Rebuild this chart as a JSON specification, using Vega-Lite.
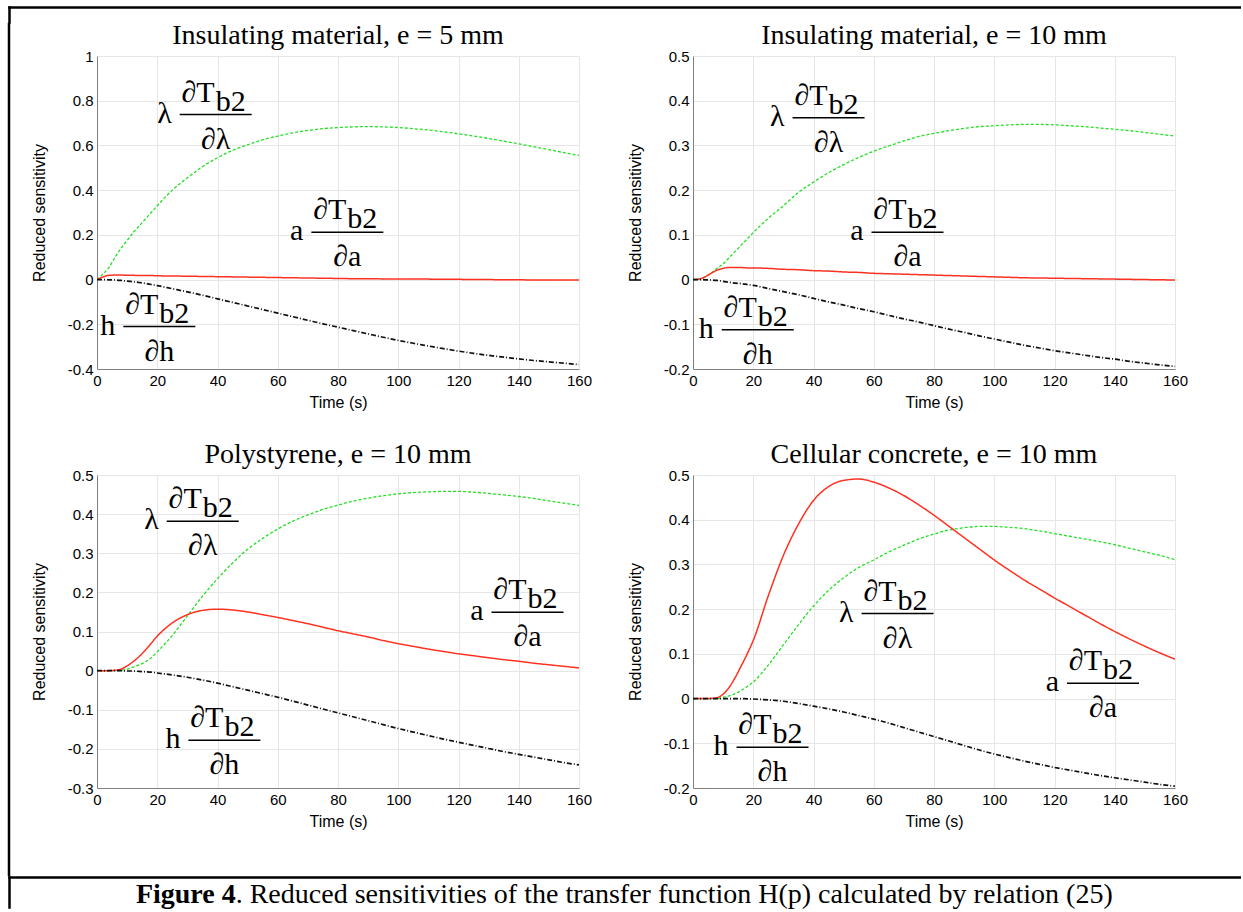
{
  "$schema": "https://vega.github.io/schema/vega-lite/v6.json",
  "background": "white",
  "padding": {"left": 7, "top": 7, "right": 0, "bottom": 0},
  "spacing": 0,
  "bounds": "full",
  "datasets": {
    "curves": [
      {"panel":"P1","time":0,"lambda":0,"a":0,"h":0},
      {"panel":"P1","time":2,"lambda":0.025,"a":0.012,"h":-0.0005},
      {"panel":"P1","time":4,"lambda":0.055,"a":0.019,"h":-0.001},
      {"panel":"P1","time":6,"lambda":0.1,"a":0.02,"h":-0.002},
      {"panel":"P1","time":8,"lambda":0.14,"a":0.02,"h":-0.004},
      {"panel":"P1","time":10,"lambda":0.175,"a":0.019,"h":-0.007},
      {"panel":"P1","time":12,"lambda":0.21,"a":0.019,"h":-0.01},
      {"panel":"P1","time":14,"lambda":0.24,"a":0.018,"h":-0.013},
      {"panel":"P1","time":16,"lambda":0.27,"a":0.018,"h":-0.017},
      {"panel":"P1","time":18,"lambda":0.3,"a":0.018,"h":-0.022},
      {"panel":"P1","time":20,"lambda":0.33,"a":0.017,"h":-0.027},
      {"panel":"P1","time":25,"lambda":0.4,"a":0.016,"h":-0.041},
      {"panel":"P1","time":30,"lambda":0.455,"a":0.015,"h":-0.055},
      {"panel":"P1","time":35,"lambda":0.505,"a":0.014,"h":-0.07},
      {"panel":"P1","time":40,"lambda":0.545,"a":0.013,"h":-0.086},
      {"panel":"P1","time":45,"lambda":0.578,"a":0.012,"h":-0.102},
      {"panel":"P1","time":50,"lambda":0.603,"a":0.011,"h":-0.118},
      {"panel":"P1","time":55,"lambda":0.625,"a":0.01,"h":-0.134},
      {"panel":"P1","time":60,"lambda":0.642,"a":0.009,"h":-0.15},
      {"panel":"P1","time":65,"lambda":0.656,"a":0.008,"h":-0.166},
      {"panel":"P1","time":70,"lambda":0.667,"a":0.007,"h":-0.182},
      {"panel":"P1","time":75,"lambda":0.675,"a":0.006,"h":-0.198},
      {"panel":"P1","time":80,"lambda":0.68,"a":0.005,"h":-0.213},
      {"panel":"P1","time":85,"lambda":0.683,"a":0.004,"h":-0.228},
      {"panel":"P1","time":90,"lambda":0.684,"a":0.004,"h":-0.243},
      {"panel":"P1","time":95,"lambda":0.683,"a":0.003,"h":-0.258},
      {"panel":"P1","time":100,"lambda":0.68,"a":0.003,"h":-0.272},
      {"panel":"P1","time":105,"lambda":0.675,"a":0.002,"h":-0.285},
      {"panel":"P1","time":110,"lambda":0.669,"a":0.002,"h":-0.297},
      {"panel":"P1","time":115,"lambda":0.661,"a":0.001,"h":-0.309},
      {"panel":"P1","time":120,"lambda":0.652,"a":0.001,"h":-0.32},
      {"panel":"P1","time":125,"lambda":0.642,"a":0,"h":-0.33},
      {"panel":"P1","time":130,"lambda":0.631,"a":0,"h":-0.339},
      {"panel":"P1","time":135,"lambda":0.619,"a":-0.001,"h":-0.347},
      {"panel":"P1","time":140,"lambda":0.607,"a":-0.001,"h":-0.355},
      {"panel":"P1","time":145,"lambda":0.594,"a":-0.002,"h":-0.362},
      {"panel":"P1","time":150,"lambda":0.581,"a":-0.002,"h":-0.368},
      {"panel":"P1","time":155,"lambda":0.568,"a":-0.002,"h":-0.374},
      {"panel":"P1","time":160,"lambda":0.555,"a":-0.002,"h":-0.38},

      {"panel":"P2","time":0,"lambda":0,"a":0,"h":0},
      {"panel":"P2","time":2,"lambda":0.001,"a":0.001,"h":0},
      {"panel":"P2","time":4,"lambda":0.006,"a":0.006,"h":-0.0005},
      {"panel":"P2","time":6,"lambda":0.015,"a":0.014,"h":-0.001},
      {"panel":"P2","time":8,"lambda":0.025,"a":0.021,"h":-0.002},
      {"panel":"P2","time":10,"lambda":0.035,"a":0.025,"h":-0.004},
      {"panel":"P2","time":12,"lambda":0.049,"a":0.027,"h":-0.006},
      {"panel":"P2","time":14,"lambda":0.063,"a":0.027,"h":-0.008},
      {"panel":"P2","time":16,"lambda":0.077,"a":0.027,"h":-0.009},
      {"panel":"P2","time":18,"lambda":0.091,"a":0.026,"h":-0.011},
      {"panel":"P2","time":20,"lambda":0.105,"a":0.026,"h":-0.013},
      {"panel":"P2","time":25,"lambda":0.137,"a":0.025,"h":-0.02},
      {"panel":"P2","time":30,"lambda":0.165,"a":0.023,"h":-0.027},
      {"panel":"P2","time":35,"lambda":0.195,"a":0.022,"h":-0.034},
      {"panel":"P2","time":40,"lambda":0.218,"a":0.02,"h":-0.042},
      {"panel":"P2","time":45,"lambda":0.239,"a":0.019,"h":-0.05},
      {"panel":"P2","time":50,"lambda":0.257,"a":0.017,"h":-0.057},
      {"panel":"P2","time":55,"lambda":0.273,"a":0.016,"h":-0.065},
      {"panel":"P2","time":60,"lambda":0.287,"a":0.014,"h":-0.072},
      {"panel":"P2","time":65,"lambda":0.299,"a":0.013,"h":-0.08},
      {"panel":"P2","time":70,"lambda":0.31,"a":0.012,"h":-0.088},
      {"panel":"P2","time":75,"lambda":0.32,"a":0.011,"h":-0.095},
      {"panel":"P2","time":80,"lambda":0.327,"a":0.01,"h":-0.103},
      {"panel":"P2","time":85,"lambda":0.333,"a":0.009,"h":-0.111},
      {"panel":"P2","time":90,"lambda":0.338,"a":0.008,"h":-0.118},
      {"panel":"P2","time":95,"lambda":0.342,"a":0.007,"h":-0.126},
      {"panel":"P2","time":100,"lambda":0.344,"a":0.006,"h":-0.133},
      {"panel":"P2","time":105,"lambda":0.346,"a":0.005,"h":-0.14},
      {"panel":"P2","time":110,"lambda":0.347,"a":0.004,"h":-0.147},
      {"panel":"P2","time":115,"lambda":0.347,"a":0.0035,"h":-0.153},
      {"panel":"P2","time":120,"lambda":0.346,"a":0.003,"h":-0.159},
      {"panel":"P2","time":125,"lambda":0.344,"a":0.0025,"h":-0.164},
      {"panel":"P2","time":130,"lambda":0.342,"a":0.002,"h":-0.169},
      {"panel":"P2","time":135,"lambda":0.339,"a":0.0015,"h":-0.174},
      {"panel":"P2","time":140,"lambda":0.336,"a":0.001,"h":-0.178},
      {"panel":"P2","time":145,"lambda":0.333,"a":0.0005,"h":-0.183},
      {"panel":"P2","time":150,"lambda":0.329,"a":0,"h":-0.187},
      {"panel":"P2","time":155,"lambda":0.325,"a":-0.0005,"h":-0.191},
      {"panel":"P2","time":160,"lambda":0.321,"a":-0.001,"h":-0.194},

      {"panel":"P3","time":0,"lambda":0,"a":0,"h":0},
      {"panel":"P3","time":2,"lambda":0,"a":0,"h":0},
      {"panel":"P3","time":4,"lambda":0,"a":0,"h":0},
      {"panel":"P3","time":6,"lambda":0,"a":0.001,"h":0},
      {"panel":"P3","time":8,"lambda":0.001,"a":0.004,"h":0},
      {"panel":"P3","time":10,"lambda":0.004,"a":0.012,"h":-0.001},
      {"panel":"P3","time":12,"lambda":0.009,"a":0.023,"h":-0.001},
      {"panel":"P3","time":14,"lambda":0.015,"a":0.036,"h":-0.002},
      {"panel":"P3","time":16,"lambda":0.022,"a":0.052,"h":-0.003},
      {"panel":"P3","time":18,"lambda":0.033,"a":0.07,"h":-0.004},
      {"panel":"P3","time":20,"lambda":0.048,"a":0.088,"h":-0.006},
      {"panel":"P3","time":25,"lambda":0.09,"a":0.122,"h":-0.011},
      {"panel":"P3","time":30,"lambda":0.14,"a":0.143,"h":-0.017},
      {"panel":"P3","time":35,"lambda":0.19,"a":0.154,"h":-0.024},
      {"panel":"P3","time":40,"lambda":0.235,"a":0.157,"h":-0.032},
      {"panel":"P3","time":45,"lambda":0.275,"a":0.155,"h":-0.041},
      {"panel":"P3","time":50,"lambda":0.31,"a":0.15,"h":-0.05},
      {"panel":"P3","time":55,"lambda":0.338,"a":0.143,"h":-0.059},
      {"panel":"P3","time":60,"lambda":0.362,"a":0.136,"h":-0.068},
      {"panel":"P3","time":65,"lambda":0.382,"a":0.128,"h":-0.078},
      {"panel":"P3","time":70,"lambda":0.398,"a":0.12,"h":-0.088},
      {"panel":"P3","time":75,"lambda":0.412,"a":0.111,"h":-0.098},
      {"panel":"P3","time":80,"lambda":0.423,"a":0.102,"h":-0.108},
      {"panel":"P3","time":85,"lambda":0.433,"a":0.094,"h":-0.118},
      {"panel":"P3","time":90,"lambda":0.441,"a":0.086,"h":-0.128},
      {"panel":"P3","time":95,"lambda":0.447,"a":0.077,"h":-0.138},
      {"panel":"P3","time":100,"lambda":0.452,"a":0.069,"h":-0.148},
      {"panel":"P3","time":105,"lambda":0.455,"a":0.062,"h":-0.157},
      {"panel":"P3","time":110,"lambda":0.457,"a":0.055,"h":-0.166},
      {"panel":"P3","time":115,"lambda":0.458,"a":0.049,"h":-0.175},
      {"panel":"P3","time":120,"lambda":0.458,"a":0.043,"h":-0.183},
      {"panel":"P3","time":125,"lambda":0.456,"a":0.038,"h":-0.191},
      {"panel":"P3","time":130,"lambda":0.453,"a":0.033,"h":-0.199},
      {"panel":"P3","time":135,"lambda":0.449,"a":0.028,"h":-0.207},
      {"panel":"P3","time":140,"lambda":0.445,"a":0.024,"h":-0.214},
      {"panel":"P3","time":145,"lambda":0.44,"a":0.019,"h":-0.221},
      {"panel":"P3","time":150,"lambda":0.434,"a":0.015,"h":-0.228},
      {"panel":"P3","time":155,"lambda":0.428,"a":0.011,"h":-0.235},
      {"panel":"P3","time":160,"lambda":0.422,"a":0.007,"h":-0.241},

      {"panel":"P4","time":0,"lambda":0,"a":0,"h":0},
      {"panel":"P4","time":2,"lambda":0,"a":0,"h":0},
      {"panel":"P4","time":4,"lambda":0,"a":0,"h":0},
      {"panel":"P4","time":6,"lambda":0,"a":0.0005,"h":0},
      {"panel":"P4","time":8,"lambda":0,"a":0.002,"h":0},
      {"panel":"P4","time":10,"lambda":0.003,"a":0.01,"h":0},
      {"panel":"P4","time":12,"lambda":0.006,"a":0.025,"h":0},
      {"panel":"P4","time":14,"lambda":0.011,"a":0.047,"h":0},
      {"panel":"P4","time":16,"lambda":0.018,"a":0.073,"h":0},
      {"panel":"P4","time":18,"lambda":0.027,"a":0.1,"h":-0.0005},
      {"panel":"P4","time":20,"lambda":0.037,"a":0.13,"h":-0.001},
      {"panel":"P4","time":25,"lambda":0.075,"a":0.23,"h":-0.003},
      {"panel":"P4","time":30,"lambda":0.12,"a":0.32,"h":-0.006},
      {"panel":"P4","time":35,"lambda":0.165,"a":0.39,"h":-0.011},
      {"panel":"P4","time":40,"lambda":0.207,"a":0.443,"h":-0.017},
      {"panel":"P4","time":45,"lambda":0.242,"a":0.474,"h":-0.023},
      {"panel":"P4","time":50,"lambda":0.27,"a":0.488,"h":-0.03},
      {"panel":"P4","time":55,"lambda":0.293,"a":0.491,"h":-0.038},
      {"panel":"P4","time":60,"lambda":0.31,"a":0.484,"h":-0.046},
      {"panel":"P4","time":65,"lambda":0.328,"a":0.471,"h":-0.055},
      {"panel":"P4","time":70,"lambda":0.343,"a":0.454,"h":-0.065},
      {"panel":"P4","time":75,"lambda":0.357,"a":0.433,"h":-0.075},
      {"panel":"P4","time":80,"lambda":0.368,"a":0.41,"h":-0.085},
      {"panel":"P4","time":85,"lambda":0.377,"a":0.385,"h":-0.095},
      {"panel":"P4","time":90,"lambda":0.382,"a":0.36,"h":-0.105},
      {"panel":"P4","time":95,"lambda":0.385,"a":0.335,"h":-0.115},
      {"panel":"P4","time":100,"lambda":0.385,"a":0.31,"h":-0.124},
      {"panel":"P4","time":105,"lambda":0.383,"a":0.287,"h":-0.132},
      {"panel":"P4","time":110,"lambda":0.38,"a":0.265,"h":-0.14},
      {"panel":"P4","time":115,"lambda":0.375,"a":0.245,"h":-0.147},
      {"panel":"P4","time":120,"lambda":0.369,"a":0.225,"h":-0.154},
      {"panel":"P4","time":125,"lambda":0.363,"a":0.206,"h":-0.16},
      {"panel":"P4","time":130,"lambda":0.357,"a":0.187,"h":-0.166},
      {"panel":"P4","time":135,"lambda":0.351,"a":0.168,"h":-0.172},
      {"panel":"P4","time":140,"lambda":0.344,"a":0.15,"h":-0.177},
      {"panel":"P4","time":145,"lambda":0.336,"a":0.133,"h":-0.182},
      {"panel":"P4","time":150,"lambda":0.328,"a":0.117,"h":-0.187},
      {"panel":"P4","time":155,"lambda":0.32,"a":0.102,"h":-0.192},
      {"panel":"P4","time":160,"lambda":0.311,"a":0.088,"h":-0.196}
    ],
    "labels": [
      {"panel":"P1","series":"lambda","time":39.4,"value":0.738,"prefix":"λ","numerator":"∂T","subscript":"b2","denominator":"∂λ"},
      {"panel":"P1","series":"a","time":83.1,"value":0.212,"prefix":"a","numerator":"∂T","subscript":"b2","denominator":"∂a"},
      {"panel":"P1","series":"h","time":20.7,"value":-0.21,"prefix":"h","numerator":"∂T","subscript":"b2","denominator":"∂h"},
      {"panel":"P2","series":"lambda","time":45,"value":0.362,"prefix":"λ","numerator":"∂T","subscript":"b2","denominator":"∂λ"},
      {"panel":"P2","series":"a","time":71.2,"value":0.106,"prefix":"a","numerator":"∂T","subscript":"b2","denominator":"∂a"},
      {"panel":"P2","series":"h","time":21.5,"value":-0.112,"prefix":"h","numerator":"∂T","subscript":"b2","denominator":"∂h"},
      {"panel":"P3","series":"lambda","time":35.1,"value":0.382,"prefix":"λ","numerator":"∂T","subscript":"b2","denominator":"∂λ"},
      {"panel":"P3","series":"a","time":142.9,"value":0.149,"prefix":"a","numerator":"∂T","subscript":"b2","denominator":"∂a"},
      {"panel":"P3","series":"h","time":42.3,"value":-0.178,"prefix":"h","numerator":"∂T","subscript":"b2","denominator":"∂h"},
      {"panel":"P4","series":"lambda","time":67.9,"value":0.19,"prefix":"λ","numerator":"∂T","subscript":"b2","denominator":"∂λ"},
      {"panel":"P4","series":"a","time":136.1,"value":0.034,"prefix":"a","numerator":"∂T","subscript":"b2","denominator":"∂a"},
      {"panel":"P4","series":"h","time":26.4,"value":-0.109,"prefix":"h","numerator":"∂T","subscript":"b2","denominator":"∂h"}
    ]
  },
  "vconcat": [
    {
      "width": 1232, "height": 15,
      "data": {"values": [{}]},
      "mark": {"type": "text", "text": ""},
      "encoding": {
        "x": {"datum": 0.5, "type": "quantitative", "scale": {"domain": [0, 1]}, "axis": {"orient": "top", "title": null, "labels": false, "ticks": false, "grid": false, "domainColor": "black", "domainWidth": 2.5, "domainCap": "square"}},
        "y": {"datum": 0.5, "type": "quantitative", "scale": {"domain": [0, 1]}, "axis": {"orient": "left", "title": null, "labels": false, "ticks": false, "grid": false, "domainColor": "black", "domainWidth": 2.5, "domainCap": "square"}}
      }
    },
    {
      "hconcat": [
        {
          "width": 1, "height": 819,
          "data": {"values": [{}]},
          "mark": {"type": "rule", "color": "black", "strokeWidth": 2.5, "strokeCap": "square", "clip": false},
          "encoding": {
            "x": {"datum": 0, "type": "quantitative", "scale": {"domain": [0, 1], "nice": false, "zero": false}, "axis": null},
            "y": {"datum": 0, "type": "quantitative", "scale": {"domain": [0, 1], "nice": false, "zero": false}, "axis": null},
            "y2": {"datum": 1.039}
          }
        },
        {
          "columns": 2,
          "spacing": {"row": 106, "column": 114},
          "bounds": "flush",
          "concat": [
            {
              "width": 482, "height": 313,
              "title": "Insulating material, e = 5 mm",
              "layer": [
                {
                  "data": {"name": "curves"},
                  "transform": [{"filter": "datum.panel == 'P1'"}, {"fold": ["lambda", "a", "h"], "as": ["series", "value"]}],
                  "mark": {"type": "line", "interpolate": "monotone", "clip": true},
                  "encoding": {
                    "x": {"field": "time", "type": "quantitative", "scale": {"domain": [0, 160], "nice": false}, "axis": {"title": "Time (s)", "values": [0,20,40,60,80,100,120,140,160], "tickCount": 20}},
                    "y": {"field": "value", "type": "quantitative", "scale": {"domain": [-0.4, 1], "nice": false}, "axis": {"title": "Reduced sensitivity", "values": [-0.4,-0.2,0,0.2,0.4,0.6,0.8,1], "tickCount": 20, "labelExpr": "'' + datum.value"}},
                    "color": {"field": "series", "type": "nominal", "scale": {"domain": ["lambda","a","h"], "range": ["#22e022","#ff3020","#111111"]}, "legend": null},
                    "strokeDash": {"field": "series", "type": "nominal", "scale": {"domain": ["lambda","a","h"], "range": [[3,2],[1,0],[5,2,1,2]]}, "legend": null},
                    "strokeWidth": {"field": "series", "type": "nominal", "scale": {"domain": ["lambda","a","h"], "range": [1.3,1.7,1.2]}, "legend": null}
                  }
                },
                {
                  "data": {"name": "labels"},
                  "transform": [{"filter": "datum.panel == 'P1'"}],
                  "encoding": {"x": {"field": "time", "type": "quantitative"}, "y": {"field": "value", "type": "quantitative"}},
                  "layer": [
                    {"mark": {"type": "rule", "xOffset": -36, "x2Offset": 36, "strokeWidth": 1.5, "color": "black"}, "encoding": {"x2": {"field": "time"}}},
                    {"mark": {"type": "text", "font": "Liberation Serif", "fontSize": 30, "align": "right", "baseline": "alphabetic", "dx": -44, "dy": 8, "color": "black"}, "encoding": {"text": {"field": "prefix"}}},
                    {"mark": {"type": "text", "font": "Liberation Serif", "fontSize": 30, "align": "right", "baseline": "alphabetic", "dx": -1, "dy": -13, "color": "black"}, "encoding": {"text": {"field": "numerator"}}},
                    {"mark": {"type": "text", "font": "Liberation Serif", "fontSize": 30, "align": "left", "baseline": "alphabetic", "dx": 0, "dy": -4, "color": "black"}, "encoding": {"text": {"field": "subscript"}}},
                    {"mark": {"type": "text", "font": "Liberation Serif", "fontSize": 30, "align": "center", "baseline": "alphabetic", "dx": 0, "dy": 34, "color": "black"}, "encoding": {"text": {"field": "denominator"}}}
                  ]
                }
              ]
            },
            {
              "width": 482, "height": 313,
              "title": "Insulating material, e = 10 mm",
              "layer": [
                {
                  "data": {"name": "curves"},
                  "transform": [{"filter": "datum.panel == 'P2'"}, {"fold": ["lambda", "a", "h"], "as": ["series", "value"]}],
                  "mark": {"type": "line", "interpolate": "monotone", "clip": true},
                  "encoding": {
                    "x": {"field": "time", "type": "quantitative", "scale": {"domain": [0, 160], "nice": false}, "axis": {"title": "Time (s)", "values": [0,20,40,60,80,100,120,140,160], "tickCount": 20}},
                    "y": {"field": "value", "type": "quantitative", "scale": {"domain": [-0.2, 0.5], "nice": false}, "axis": {"title": "Reduced sensitivity", "values": [-0.2,-0.1,0,0.1,0.2,0.3,0.4,0.5], "tickCount": 20, "labelExpr": "'' + datum.value"}},
                    "color": {"field": "series", "type": "nominal", "scale": {"domain": ["lambda","a","h"], "range": ["#22e022","#ff3020","#111111"]}, "legend": null},
                    "strokeDash": {"field": "series", "type": "nominal", "scale": {"domain": ["lambda","a","h"], "range": [[3,2],[1,0],[5,2,1,2]]}, "legend": null},
                    "strokeWidth": {"field": "series", "type": "nominal", "scale": {"domain": ["lambda","a","h"], "range": [1.3,1.7,1.2]}, "legend": null}
                  }
                },
                {
                  "data": {"name": "labels"},
                  "transform": [{"filter": "datum.panel == 'P2'"}],
                  "encoding": {"x": {"field": "time", "type": "quantitative"}, "y": {"field": "value", "type": "quantitative"}},
                  "layer": [
                    {"mark": {"type": "rule", "xOffset": -36, "x2Offset": 36, "strokeWidth": 1.5, "color": "black"}, "encoding": {"x2": {"field": "time"}}},
                    {"mark": {"type": "text", "font": "Liberation Serif", "fontSize": 30, "align": "right", "baseline": "alphabetic", "dx": -44, "dy": 8, "color": "black"}, "encoding": {"text": {"field": "prefix"}}},
                    {"mark": {"type": "text", "font": "Liberation Serif", "fontSize": 30, "align": "right", "baseline": "alphabetic", "dx": -1, "dy": -13, "color": "black"}, "encoding": {"text": {"field": "numerator"}}},
                    {"mark": {"type": "text", "font": "Liberation Serif", "fontSize": 30, "align": "left", "baseline": "alphabetic", "dx": 0, "dy": -4, "color": "black"}, "encoding": {"text": {"field": "subscript"}}},
                    {"mark": {"type": "text", "font": "Liberation Serif", "fontSize": 30, "align": "center", "baseline": "alphabetic", "dx": 0, "dy": 34, "color": "black"}, "encoding": {"text": {"field": "denominator"}}}
                  ]
                }
              ]
            },
            {
              "width": 482, "height": 313,
              "title": "Polystyrene, e = 10 mm",
              "layer": [
                {
                  "data": {"name": "curves"},
                  "transform": [{"filter": "datum.panel == 'P3'"}, {"fold": ["lambda", "a", "h"], "as": ["series", "value"]}],
                  "mark": {"type": "line", "interpolate": "monotone", "clip": true},
                  "encoding": {
                    "x": {"field": "time", "type": "quantitative", "scale": {"domain": [0, 160], "nice": false}, "axis": {"title": "Time (s)", "values": [0,20,40,60,80,100,120,140,160], "tickCount": 20}},
                    "y": {"field": "value", "type": "quantitative", "scale": {"domain": [-0.3, 0.5], "nice": false}, "axis": {"title": "Reduced sensitivity", "values": [-0.3,-0.2,-0.1,0,0.1,0.2,0.3,0.4,0.5], "tickCount": 20, "labelExpr": "'' + datum.value"}},
                    "color": {"field": "series", "type": "nominal", "scale": {"domain": ["lambda","a","h"], "range": ["#22e022","#ff3020","#111111"]}, "legend": null},
                    "strokeDash": {"field": "series", "type": "nominal", "scale": {"domain": ["lambda","a","h"], "range": [[3,2],[1,0],[5,2,1,2]]}, "legend": null},
                    "strokeWidth": {"field": "series", "type": "nominal", "scale": {"domain": ["lambda","a","h"], "range": [1.3,1.7,1.2]}, "legend": null}
                  }
                },
                {
                  "data": {"name": "labels"},
                  "transform": [{"filter": "datum.panel == 'P3'"}],
                  "encoding": {"x": {"field": "time", "type": "quantitative"}, "y": {"field": "value", "type": "quantitative"}},
                  "layer": [
                    {"mark": {"type": "rule", "xOffset": -36, "x2Offset": 36, "strokeWidth": 1.5, "color": "black"}, "encoding": {"x2": {"field": "time"}}},
                    {"mark": {"type": "text", "font": "Liberation Serif", "fontSize": 30, "align": "right", "baseline": "alphabetic", "dx": -44, "dy": 8, "color": "black"}, "encoding": {"text": {"field": "prefix"}}},
                    {"mark": {"type": "text", "font": "Liberation Serif", "fontSize": 30, "align": "right", "baseline": "alphabetic", "dx": -1, "dy": -13, "color": "black"}, "encoding": {"text": {"field": "numerator"}}},
                    {"mark": {"type": "text", "font": "Liberation Serif", "fontSize": 30, "align": "left", "baseline": "alphabetic", "dx": 0, "dy": -4, "color": "black"}, "encoding": {"text": {"field": "subscript"}}},
                    {"mark": {"type": "text", "font": "Liberation Serif", "fontSize": 30, "align": "center", "baseline": "alphabetic", "dx": 0, "dy": 34, "color": "black"}, "encoding": {"text": {"field": "denominator"}}}
                  ]
                }
              ]
            },
            {
              "width": 482, "height": 313,
              "title": "Cellular concrete, e = 10 mm",
              "layer": [
                {
                  "data": {"name": "curves"},
                  "transform": [{"filter": "datum.panel == 'P4'"}, {"fold": ["lambda", "a", "h"], "as": ["series", "value"]}],
                  "mark": {"type": "line", "interpolate": "monotone", "clip": true},
                  "encoding": {
                    "x": {"field": "time", "type": "quantitative", "scale": {"domain": [0, 160], "nice": false}, "axis": {"title": "Time (s)", "values": [0,20,40,60,80,100,120,140,160], "tickCount": 20}},
                    "y": {"field": "value", "type": "quantitative", "scale": {"domain": [-0.2, 0.5], "nice": false}, "axis": {"title": "Reduced sensitivity", "values": [-0.2,-0.1,0,0.1,0.2,0.3,0.4,0.5], "tickCount": 20, "labelExpr": "'' + datum.value"}},
                    "color": {"field": "series", "type": "nominal", "scale": {"domain": ["lambda","a","h"], "range": ["#22e022","#ff3020","#111111"]}, "legend": null},
                    "strokeDash": {"field": "series", "type": "nominal", "scale": {"domain": ["lambda","a","h"], "range": [[3,2],[1,0],[5,2,1,2]]}, "legend": null},
                    "strokeWidth": {"field": "series", "type": "nominal", "scale": {"domain": ["lambda","a","h"], "range": [1.3,1.7,1.2]}, "legend": null}
                  }
                },
                {
                  "data": {"name": "labels"},
                  "transform": [{"filter": "datum.panel == 'P4'"}],
                  "encoding": {"x": {"field": "time", "type": "quantitative"}, "y": {"field": "value", "type": "quantitative"}},
                  "layer": [
                    {"mark": {"type": "rule", "xOffset": -36, "x2Offset": 36, "strokeWidth": 1.5, "color": "black"}, "encoding": {"x2": {"field": "time"}}},
                    {"mark": {"type": "text", "font": "Liberation Serif", "fontSize": 30, "align": "right", "baseline": "alphabetic", "dx": -44, "dy": 8, "color": "black"}, "encoding": {"text": {"field": "prefix"}}},
                    {"mark": {"type": "text", "font": "Liberation Serif", "fontSize": 30, "align": "right", "baseline": "alphabetic", "dx": -1, "dy": -13, "color": "black"}, "encoding": {"text": {"field": "numerator"}}},
                    {"mark": {"type": "text", "font": "Liberation Serif", "fontSize": 30, "align": "left", "baseline": "alphabetic", "dx": 0, "dy": -4, "color": "black"}, "encoding": {"text": {"field": "subscript"}}},
                    {"mark": {"type": "text", "font": "Liberation Serif", "fontSize": 30, "align": "center", "baseline": "alphabetic", "dx": 0, "dy": 34, "color": "black"}, "encoding": {"text": {"field": "denominator"}}}
                  ]
                }
              ]
            }
          ]
        }
      ],
      "spacing": 20,
      "bounds": "full"
    },
    {
      "width": 1232, "height": 30,
      "data": {"values": [{}]},
      "layer": [
        {
          "mark": {"type": "text", "text": "Figure 4", "font": "Liberation Serif", "fontSize": 28, "fontWeight": "bold", "align": "right", "baseline": "alphabetic", "dy": 11, "color": "black"},
          "encoding": {
            "x": {"datum": 0.184, "type": "quantitative", "scale": {"domain": [0, 1]}, "axis": {"orient": "top", "title": null, "labels": false, "ticks": false, "grid": false, "domainColor": "black", "domainWidth": 2.5, "domainCap": "square"}},
            "y": {"datum": 0.5, "type": "quantitative", "scale": {"domain": [0, 1]}, "axis": {"orient": "left", "title": null, "labels": false, "ticks": false, "grid": false, "domainColor": "black", "domainWidth": 2.5, "domainCap": "square"}}
          }
        },
        {
          "mark": {"type": "text", "text": ". Reduced sensitivities of the transfer function H(p) calculated by relation (25)", "font": "Liberation Serif", "fontSize": 28, "align": "left", "baseline": "alphabetic", "dy": 11, "color": "black"},
          "encoding": {
            "x": {"datum": 0.184, "type": "quantitative"},
            "y": {"datum": 0.5, "type": "quantitative"}
          }
        }
      ]
    }
  ],
  "config": {
    "view": {"stroke": null},
    "axis": {
      "labelFont": "Liberation Sans", "labelFontSize": 15, "labelColor": "#000000",
      "titleFont": "Liberation Sans", "titleFontSize": 16, "titleFontWeight": "normal", "titleColor": "#000000",
      "domainColor": "#808080", "domainWidth": 1, "gridColor": "#e6e6e6", "grid": true,
      "ticks": false, "labelPadding": 4, "labelFlush": false, "labelOverlap": false
    },
    "axisY": {"titlePadding": 20},
    "axisX": {"titlePadding": 6},
    "title": {"font": "Liberation Serif", "fontSize": 28, "fontWeight": "normal", "color": "#000000", "offset": -1, "baseline": "alphabetic"}
  }
}
